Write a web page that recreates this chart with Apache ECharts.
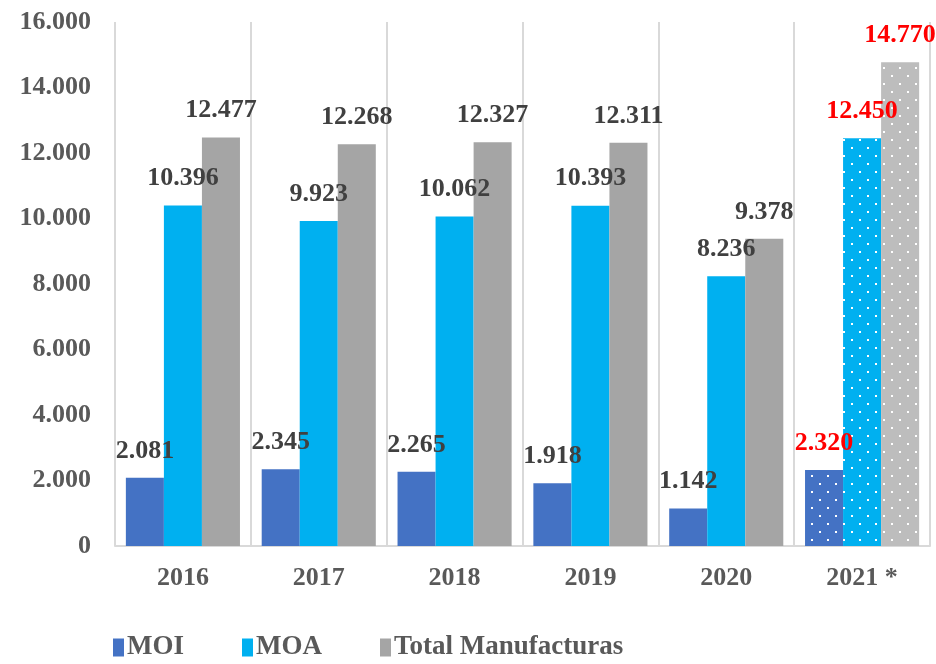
<!DOCTYPE html>
<html>
<head>
<meta charset="utf-8">
<script src="https://cdn.jsdelivr.net/npm/echarts@6/dist/echarts.min.js"></script>
<style>
  html, body { margin: 0; padding: 0; background: #fff; }
  #chart { width: 936px; height: 664px; }
</style>
</head>
<body>
<div id="chart"></div>
<script>
var categories = ['2016', '2017', '2018', '2019', '2020', '2021 *']
var moi = [2081, 2345, 2265, 1918, 1142, 2320]
var moa = [10396, 9923, 10062, 10393, 8236, 12450]
var total = [12477, 12268, 12327, 12311, 9378, 14770]
var seriesNames = ['MOI', 'MOA', 'Total Manufacturas']

var FONT = '"Liberation Serif", "Times New Roman", serif'

// 16000 -> "16.000"
function fmt(v) {
  return String(Math.round(v)).replace(/\B(?=(\d{3})+(?!\d))/g, '.')
}

// dotted pattern for the 2021 estimate
function dots(base) {
  var c = document.createElement('canvas')
  c.width = 16
  c.height = 16
  var ctx = c.getContext('2d')
  ctx.fillStyle = base
  ctx.fillRect(0, 0, 16, 16)
  ctx.fillStyle = '#ffffff'
  ctx.fillRect(3, 3, 2, 2)
  ctx.fillRect(11, 11, 2, 2)
  return { image: c, repeat: 'repeat' }
}

function buildSeries(name, values, color, lastColor) {
  return {
    name: name,
    type: 'bar',
    barGap: '0%',
    barCategoryGap: '16%',
    itemStyle: { color: color },
    label: {
      show: true,
      position: 'top',
      distance: 14,
      fontFamily: FONT,
      fontWeight: 'bold',
      fontSize: 26,
      color: '#404040',
      formatter: function(p) { return fmt(p.value) }
    },
    data: values.map(function(v, i) {
      if (i === values.length - 1) {
        return {
          value: v,
          itemStyle: { color: dots(lastColor) },
          label: { color: '#ff0000' }
        }
      }
      return v
    })
  }
}

var chart = echarts.init(document.getElementById('chart'))
chart.setOption({
  animation: false,
  grid: { left: 115, right: 6, top: 22, bottom: 118 },
  legend: {
    data: seriesNames,
    left: 108,
    bottom: -2,
    icon: 'rect',
    itemWidth: 11,
    itemHeight: 18,
    itemGap: 58,
    textStyle: {
      fontFamily: FONT,
      fontWeight: 'bold',
      fontSize: 27,
      color: '#595959',
      padding: [0, 0, 0, -2]
    }
  },
  xAxis: {
    type: 'category',
    data: categories,
    axisLine: { lineStyle: { color: '#d9d9d9', width: 2 } },
    axisTick: { show: false },
    splitLine: { show: true, interval: 0, lineStyle: { color: '#d9d9d9', width: 2 } },
    axisLabel: {
      margin: 19,
      fontFamily: FONT,
      fontWeight: 'bold',
      fontSize: 26,
      color: '#595959'
    }
  },
  yAxis: {
    type: 'value',
    min: 0,
    max: 16000,
    interval: 2000,
    axisLine: { show: false },
    axisTick: { show: false },
    splitLine: { show: false },
    axisLabel: {
      margin: 24,
      fontFamily: FONT,
      fontWeight: 'bold',
      fontSize: 26,
      color: '#595959',
      formatter: fmt
    }
  },
  series: [
    buildSeries(seriesNames[0], moi, '#4472c4', '#4472c4'),
    buildSeries(seriesNames[1], moa, '#00b0f0', '#00b0f0'),
    buildSeries(seriesNames[2], total, '#a5a5a5', '#bdbdbd')
  ]
})
</script>
</body>
</html>
